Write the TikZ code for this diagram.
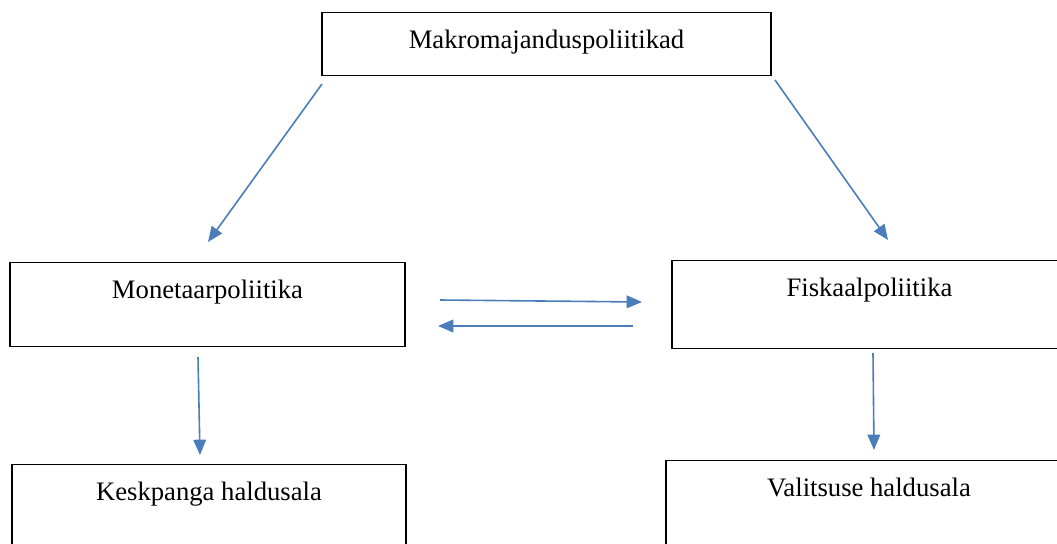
\documentclass[tikz,border=0pt]{standalone}
\usepackage{fontspec}
\setmainfont{Liberation Serif}
\usetikzlibrary{arrows.meta,positioning}
\definecolor{arrblue}{RGB}{74,126,187}

\begin{document}
\begin{tikzpicture}[x=0.75pt,y=-0.75pt]
\useasboundingbox (0,0) rectangle (1057,543);
\clip (0,0) rectangle (1057,543);
									\foreach \cx/\ty/\w/\d/\t [count=\n] in {546.5/12/336.75/20.25/Makromajanduspoliitikad,207.5/262/296.25/36/Monetaarpoliitika,869.5/260/296.25/39/Fiskaalpoliitika,209/464/295.5/40/Keskpanga haldusala,869/460/304.5/40/Valitsuse haldusala}
           								\node[draw,line width=0.9pt,inner xsep=0pt,inner ysep=0pt,minimum width=\w pt,text height=27pt,text depth=\d pt,anchor=north,font=\fontsize{20}{24}\selectfont](N\n) at (\cx,\ty){\t};

           							\coordinate (A1) at (322,84);  \coordinate (B1) at (208,242);
           							\coordinate (A2) at (775,80);  \coordinate (B2) at (888,240);
           							\coordinate (A3) at (440,300); \coordinate (B3) at (642,302);
           							\coordinate (A4) at (633,326); \coordinate (B4) at (438,326);
           							\coordinate (A5) at (198,357); \coordinate (B5) at (200,455);
           							\coordinate (A6) at (873,353); \coordinate (B6) at (874,450);

           							\path [-{Triangle[length=11.5pt,width=9.5pt]},arrblue,line width=1.2pt]
           								(A1) edge node {} (B1)
           								(A2) edge node {} (B2)
           								(A3) edge node {} (B3)
           								(A4) edge node {} (B4)
           								(A5) edge node {} (B5)
           								(A6) edge node {} (B6);
           						\end{tikzpicture}
\end{document}
